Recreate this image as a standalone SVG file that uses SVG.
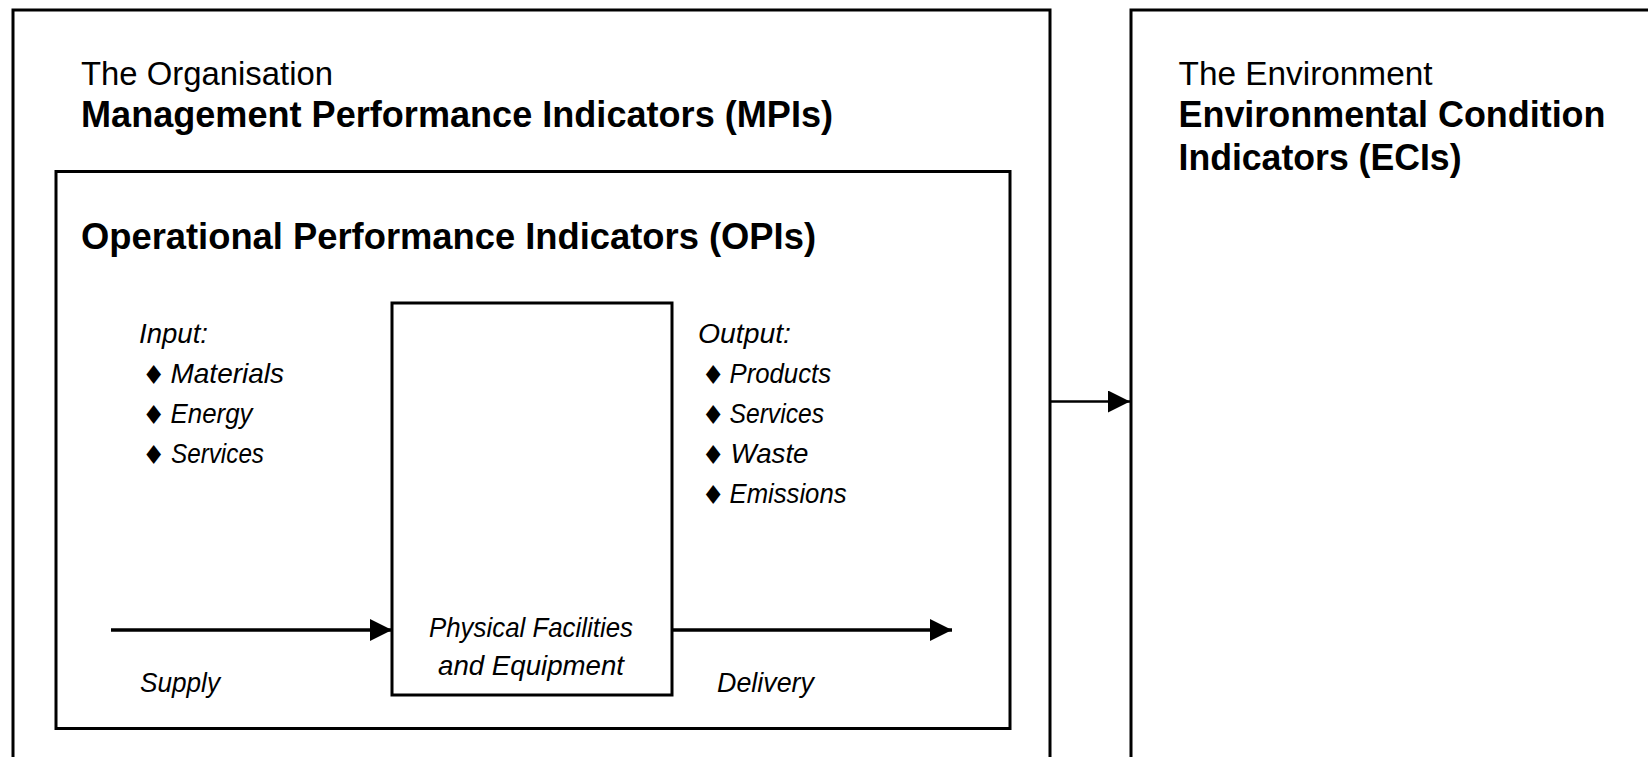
<svg xmlns="http://www.w3.org/2000/svg" width="1648" height="757" viewBox="0 0 1648 757">
  <style>
    .box { fill: none; stroke: #000; stroke-width: 3; }
    .conn { fill: none; stroke: #000; stroke-width: 3.5; }
    .conn2 { fill: none; stroke: #000; stroke-width: 2.5; }
    .reg { font-family: "Liberation Sans", Arial, sans-serif; font-size: 34px; fill: #000; }
    .bold { font-family: "Liberation Sans", Arial, sans-serif; font-size: 36px; font-weight: bold; fill: #000; }
    .it { font-family: "Liberation Sans", Arial, sans-serif; font-size: 28px; font-style: italic; fill: #000; }
    .dia { font-family: "DejaVu Sans", sans-serif; font-size: 26px; font-style: normal; fill: #000; }
  </style>
  <defs>
    <marker id="arrow" markerUnits="userSpaceOnUse" markerWidth="22" markerHeight="22" refX="22" refY="11" orient="auto">
      <path d="M0,0 L22,11 L0,22 Z" fill="#000"/>
    </marker>
  </defs>
  <rect width="1648" height="757" fill="#fff"/>

  <g id="organisation">
    <path class="box" d="M13,780 V10 H1050 V780"/>
    <text class="reg" x="81" y="85" textLength="252" lengthAdjust="spacingAndGlyphs">The Organisation</text>
    <text class="bold" x="81" y="127" textLength="752" lengthAdjust="spacingAndGlyphs">Management Performance Indicators (MPIs)</text>
  </g>

  <g id="opi">
    <rect class="box" x="56" y="171.5" width="954" height="557"/>
    <text class="bold" x="81" y="249" textLength="735" lengthAdjust="spacingAndGlyphs">Operational Performance Indicators (OPIs)</text>
  </g>

  <g id="input">
    <text class="it" x="139" y="343" textLength="69" lengthAdjust="spacingAndGlyphs">Input:</text>
    <text class="dia" x="142" y="384">♦</text>
    <text class="it" x="170.5" y="383" textLength="113.5" lengthAdjust="spacingAndGlyphs">Materials</text>
    <text class="dia" x="142" y="424">♦</text>
    <text class="it" x="170.5" y="423" textLength="82" lengthAdjust="spacingAndGlyphs">Energy</text>
    <text class="dia" x="142" y="464">♦</text>
    <text class="it" x="171" y="463" textLength="93" lengthAdjust="spacingAndGlyphs">Services</text>
  </g>

  <g id="facilities">
    <rect class="box" x="392" y="303" width="280" height="392"/>
    <text class="it" x="531" y="637" text-anchor="middle" textLength="204" lengthAdjust="spacingAndGlyphs">Physical Facilities</text>
    <text class="it" x="531" y="675" text-anchor="middle" textLength="186" lengthAdjust="spacingAndGlyphs">and Equipment</text>
  </g>

  <g id="output">
    <text class="it" x="698" y="343" textLength="93" lengthAdjust="spacingAndGlyphs">Output:</text>
    <text class="dia" x="701.5" y="384">♦</text>
    <text class="it" x="729.5" y="383" textLength="101.5" lengthAdjust="spacingAndGlyphs">Products</text>
    <text class="dia" x="701.5" y="424">♦</text>
    <text class="it" x="729.5" y="423" textLength="94.5" lengthAdjust="spacingAndGlyphs">Services</text>
    <text class="dia" x="701.5" y="464">♦</text>
    <text class="it" x="730.5" y="463" textLength="78" lengthAdjust="spacingAndGlyphs">Waste</text>
    <text class="dia" x="701.5" y="504">♦</text>
    <text class="it" x="729.5" y="503" textLength="117" lengthAdjust="spacingAndGlyphs">Emissions</text>
  </g>

  <g id="supply-label">
    <text class="it" x="140" y="692" textLength="80" lengthAdjust="spacingAndGlyphs">Supply</text>
  </g>
  <g id="delivery-label">
    <text class="it" x="717" y="692" textLength="97" lengthAdjust="spacingAndGlyphs">Delivery</text>
  </g>

  <g id="environment">
    <path class="box" d="M1131,780 V10 H1670"/>
    <text class="reg" x="1178.5" y="85" textLength="254" lengthAdjust="spacingAndGlyphs">The Environment</text>
    <text class="bold" x="1178.5" y="127" textLength="427" lengthAdjust="spacingAndGlyphs">Environmental Condition</text>
    <text class="bold" x="1178.5" y="170" textLength="283" lengthAdjust="spacingAndGlyphs">Indicators (ECIs)</text>
  </g>

  <g id="connectors">
    <line class="conn" x1="111" y1="630" x2="392" y2="630" marker-end="url(#arrow)"/>
    <line class="conn" x1="672" y1="630" x2="952" y2="630" marker-end="url(#arrow)"/>
    <line class="conn2" x1="1050" y1="401.5" x2="1130" y2="401.5" marker-end="url(#arrow)"/>
  </g>
</svg>
